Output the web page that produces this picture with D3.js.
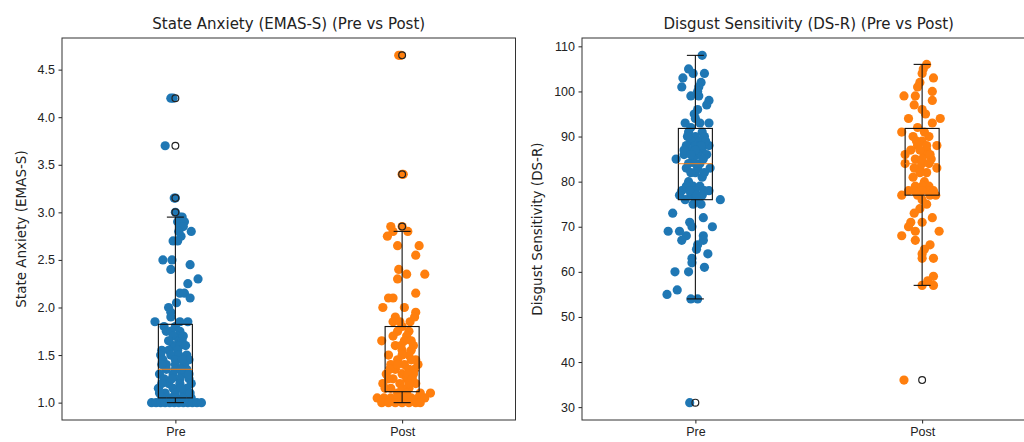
<!DOCTYPE html>
<html>
<head>
<meta charset="utf-8">
<script src="https://cdn.jsdelivr.net/npm/d3@7"></script>
<style>
  body { margin: 0; background: #fff; }
  svg { display: block; font-family: "DejaVu Sans", sans-serif; }
  .axis path, .axis line { stroke: #222; }
  .axis text { fill: #222; font-size: 12.5px; }
</style>
</head>
<body>
<div id="chart"></div>
<script>
// groups
const groups = ['Pre', 'Post'];
const colors = ['#1f77b4', '#ff7f0e'];

// EMAS-S points: [value, jitter from group position]
const emasPre = [
  [4.2,-0.02],[4.2,-0.01],[3.7,-0.045],[3.15,0.0],[3.15,-0.005],[3.0,0.0],
  [2.95,0.02],[2.95,0.03],[2.9,0.01],[2.9,0.04],[2.85,0.02],[2.85,0.035],[2.8,0.07],[2.8,0.015],
  [2.75,0.025],[2.7,-0.01],[2.7,0.01],[2.5,-0.055],[2.5,-0.015],[2.4,-0.02],[2.45,0.065],
  [2.3,0.1],[2.25,0.055],[2.15,0.02],[2.15,0.04],[2.1,0.065],[2.05,0.005],[2.0,-0.03],
  [1.95,-0.02],[1.9,-0.02],[1.85,-0.09],[1.85,0.02],[1.85,0.055],
  [1.8,-0.05],[1.8,0.0],[1.75,-0.04],[1.75,-0.02],[1.75,0.02],[1.7,0.01],[1.7,-0.01],
  [1.65,0.015],[1.65,0.03],[1.6,-0.01],[1.6,0.02],[1.55,-0.06],[1.55,-0.03],[1.5,0.05],
  [1.5,-0.065],[1.45,-0.055],[1.45,0.06],[1.4,0.0],[1.4,0.04],[1.4,-0.04],[1.35,-0.04],
  [1.35,0.05],[1.3,-0.07],[1.3,-0.01],[1.3,0.03],[1.25,0.02],[1.25,-0.05],[1.25,0.06],
  [1.2,-0.03],[1.2,0.07],[1.2,0.02],[1.15,-0.075],[1.15,-0.01],[1.15,0.05],[1.1,0.04],
  [1.1,-0.045],[1.1,0.0],[1.05,-0.06],[1.05,0.03],[1.05,-0.02],[1.05,0.07],
  [1.7,0.035],[1.65,-0.03],[1.6,0.045],[1.55,0.01],[1.5,-0.02],[1.5,0.015],[1.45,0.0],
  [1.45,0.03],[1.4,-0.06],[1.35,0.0],[1.35,0.025],[1.3,0.06],[1.25,-0.015],[1.2,-0.06],
  [1.15,0.025],[1.1,-0.07],[1.1,0.065],[1.05,0.0],
  [1.0,-0.105],[1.0,-0.085],[1.0,-0.065],[1.0,-0.045],[1.0,-0.025],[1.0,-0.005],
  [1.0,0.015],[1.0,0.035],[1.0,0.055],[1.0,0.075],[1.0,0.095],[1.0,0.115]
];
const emasPost = [
  [4.65,-0.015],[4.65,-0.005],[3.4,0.0],[3.4,0.005],[2.85,-0.05],[2.85,0.0],
  [2.8,0.025],[2.8,-0.04],[2.75,-0.065],[2.65,-0.02],[2.65,0.075],[2.55,0.06],[2.4,-0.015],
  [2.35,0.02],[2.35,0.1],[2.3,-0.02],[2.15,0.06],[2.1,-0.06],[2.1,-0.04],[2.0,-0.085],
  [2.0,0.01],[1.95,0.06],[1.9,0.055],[1.9,-0.03],[1.85,-0.04],[1.85,0.035],[1.85,-0.01],
  [1.8,0.0],[1.75,-0.02],[1.75,0.03],[1.7,0.02],[1.7,-0.04],[1.65,-0.09],[1.65,0.01],
  [1.6,0.05],[1.6,-0.03],[1.55,0.0],[1.55,0.04],[1.5,-0.06],[1.5,0.03],[1.45,-0.02],
  [1.45,0.06],[1.4,-0.05],[1.4,0.01],[1.4,0.07],[1.35,-0.03],[1.35,0.03],[1.3,-0.07],
  [1.3,0.0],[1.3,0.05],[1.25,-0.04],[1.25,0.02],[1.2,-0.085],[1.2,-0.01],[1.2,0.06],
  [1.15,0.03],[1.15,-0.05],[1.1,0.125],[1.1,-0.02],[1.1,0.08],
  [1.65,0.04],[1.6,-0.005],[1.5,0.0],[1.45,0.04],[1.4,-0.02],[1.35,0.055],[1.35,-0.055],
  [1.3,0.025],[1.25,0.045],[1.25,-0.06],[1.2,0.03],[1.15,0.0],[1.15,-0.075],[1.1,0.02],
  [1.05,-0.11],[1.05,-0.08],[1.05,-0.05],[1.05,-0.02],[1.05,0.01],[1.05,0.04],[1.05,0.07],[1.05,0.1],
  [1.0,-0.09],[1.0,-0.06],[1.0,-0.03],[1.0,0.0],[1.0,0.03],[1.0,0.06],[1.0,0.08]
];

// DS-R points: [value, jitter]
const dsPre = [
  [108,0.03],[105,-0.03],[104,-0.01],[104,0.04],[103,-0.055],[102,0.025],[101,-0.06],[101,0.015],
  [100,0.01],[99,-0.02],[99,0.015],[98,0.06],[97,0.05],[96,0.01],[95,-0.005],[94,0.0],
  [93,-0.045],[93,0.06],[93,0.02],[92,-0.02],[91,0.03],[91,-0.03],[90,0.0],[90,0.04],
  [89,-0.02],[89,0.02],[88,-0.04],[88,0.06],[88,0.0],[87,-0.03],[87,0.03],[86,0.01],
  [86,-0.05],[86,0.05],[85,-0.085],[85,-0.01],[84,0.02],[84,-0.03],[83,0.065],[83,-0.04],
  [82,0.0],[82,-0.02],[81,0.03],[80,-0.03],[79,-0.01],[79,0.02],[78,-0.06],[78,0.04],
  [78,0.0],[77,-0.07],[77,-0.02],[77,0.03],[76,0.11],[76,-0.045],[76,0.0],[75,0.025],
  [90,-0.035],[89,0.045],[88,0.025],[87,0.0],[87,-0.05],[86,-0.02],[85,0.035],[84,0.0],
  [83,0.01],[82,0.04],[79,-0.04],[78,-0.025],[78,0.06],[77,0.005],
  [75,-0.01],[73,-0.1],[72,0.035],[71,-0.025],[70,-0.015],[70,0.075],[69,-0.12],[69,-0.07],
  [68,0.035],[68,-0.04],[67,-0.06],[67,0.035],[66,0.01],[65,0.005],[64,0.055],[63,-0.015],
  [62,-0.015],[61,0.04],[60,-0.09],[60,-0.03],[56,-0.08],[55,-0.125],[54,-0.02],[54,0.01],
  [31,-0.025]
];
const dsPost = [
  [106,0.02],[105,0.005],[104,0.0],[103,0.05],[102,-0.01],[101,-0.02],[100,0.045],[99,-0.08],
  [99,-0.03],[98,0.045],[97,-0.035],[96,0.0],[95,0.015],[94,0.08],[94,-0.06],[93,0.045],
  [92,-0.02],[91,-0.09],[91,0.01],[90,-0.04],[90,0.03],[89,0.0],[88,0.065],[88,-0.02],
  [87,0.02],[87,-0.05],[86,-0.075],[86,0.01],[85,0.04],[85,-0.03],[84,-0.075],[84,0.0],
  [83,0.065],[83,-0.01],[82,0.02],[81,-0.04],[80,0.01],[79,-0.03],[79,0.03],[78,-0.06],
  [89,-0.025],[88,0.02],[87,-0.01],[86,0.035],[85,0.0],[84,0.03],[83,-0.035],[82,-0.01],
  [79,0.0],[78,0.025],[78,-0.035],[77,0.035],
  [78,0.05],[78,0.0],[77,-0.09],[77,-0.02],[77,0.06],[76,0.0],[75,0.02],[74,-0.01],
  [73,-0.035],[72,0.045],[71,-0.05],[71,0.0],[70,-0.06],[69,0.075],[69,-0.03],[68,-0.09],
  [67,-0.03],[66,0.035],[65,0.01],[64,0.0],[63,0.0],[63,0.05],[59,0.05],[58,0.025],
  [57,0.0],[57,0.05],[36,-0.08]
];

// box stats per group: [whisker low, q1, median, q3, whisker high]
const emasStats = [[1.0, 1.05, 1.35, 1.823, 2.95], [1.0, 1.115, 1.35, 1.80, 2.8]];
const emasFliers = [[3.0, 3.15, 3.7, 4.2], [2.85, 3.4, 4.65]];
const dsStats = [[54, 76, 84, 91.8, 108], [57, 77, 84, 91.8, 106]];
const dsFliers = [[31], [36]];

// tick labels
const emasTicks = [1.0, 1.5, 2.0, 2.5, 3.0, 3.5, 4.0, 4.5];
const dsTicks = [30, 40, 50, 60, 70, 80, 90, 100, 110];

const W = 1024, H = 442;
const svg = d3.select('#chart').append('svg')
  .attr('width', W).attr('height', H);

function drawPanel(opts) {
  const {left, top, w, h, points, stats, fliers, ticks, fmt, title, ylabel, labelX} = opts;

  const g = svg.append('g').attr('transform', `translate(${left},${top})`);

  // y extent with matplotlib style 5% margin
  const allVals = points.flat().map(d => d[0]);
  const lo = d3.min(allVals), hi = d3.max(allVals);
  const pad = (hi - lo) * 0.05;

  const x = d3.scaleLinear().domain([0.5, 2.5]).range([0, w]);
  const y = d3.scaleLinear().domain([lo - pad, hi + pad]).range([h, 0]);

  // jittered points
  points.forEach((pts, i) => {
    g.append('g').selectAll('circle')
      .data(pts)
      .join('circle')
      .attr('cx', d => x(i + 1 + d[1]))
      .attr('cy', d => y(d[0]))
      .attr('r', 4.6)
      .attr('fill', colors[i]);
  });

  // boxplots
  const bw = 0.15;
  stats.forEach((s, i) => {
    const [wl, q1, med, q3, wh] = s;
    const cx = i + 1;
    const b = g.append('g').attr('fill', 'none');
    b.append('rect')
      .attr('x', x(cx - bw / 2)).attr('width', x(cx + bw / 2) - x(cx - bw / 2))
      .attr('y', y(q3)).attr('height', y(q1) - y(q3))
      .attr('stroke', '#111').attr('stroke-width', 1.1);
    [[wl, q1], [q3, wh]].forEach(([a, c]) => {
      b.append('line')
        .attr('x1', x(cx)).attr('x2', x(cx))
        .attr('y1', y(a)).attr('y2', y(c))
        .attr('stroke', '#111').attr('stroke-width', 1.1);
    });
    [wl, wh].forEach(v => {
      b.append('line')
        .attr('x1', x(cx - bw / 4)).attr('x2', x(cx + bw / 4))
        .attr('y1', y(v)).attr('y2', y(v))
        .attr('stroke', '#111').attr('stroke-width', 1.1);
    });
    b.append('line')
      .attr('x1', x(cx - bw / 2)).attr('x2', x(cx + bw / 2))
      .attr('y1', y(med)).attr('y2', y(med))
      .attr('stroke', '#ff7f0e').attr('stroke-opacity', 0.75).attr('stroke-width', 1.3);
    b.selectAll('circle.flier')
      .data(fliers[i])
      .join('circle')
      .attr('class', 'flier')
      .attr('cx', x(cx))
      .attr('cy', d => y(d))
      .attr('r', 3.4)
      .attr('stroke', '#222')
      .attr('stroke-width', 1.2);
  });

  // axes
  g.append('g').attr('class', 'axis')
    .call(d3.axisLeft(y).tickValues(ticks).tickFormat(fmt).tickSize(3.5).tickPadding(3.5))
    .call(a => a.select('.domain').remove());
  g.append('g').attr('class', 'axis')
    .attr('transform', `translate(0,${h})`)
    .call(d3.axisBottom(x).tickValues([1, 2]).tickFormat(d => groups[d - 1]).tickSize(3.5).tickPadding(3.5))
    .call(a => a.select('.domain').remove());

  // frame
  g.append('rect')
    .attr('width', w).attr('height', h)
    .attr('fill', 'none').attr('stroke', '#333').attr('stroke-width', 1);

  g.append('text')
    .attr('x', w / 2).attr('y', -9)
    .attr('text-anchor', 'middle')
    .attr('font-size', 15).attr('fill', '#222')
    .text(title);

  svg.append('text')
    .attr('transform', `translate(${labelX},${top + h / 2}) rotate(-90)`)
    .attr('text-anchor', 'middle')
    .attr('dy', '0.35em')
    .attr('font-size', 13.5).attr('fill', '#222')
    .text(ylabel);
}

drawPanel({
  left: 62, top: 38, w: 453.5, h: 382,
  points: [emasPre, emasPost], stats: emasStats, fliers: emasFliers,
  ticks: emasTicks, fmt: d3.format('.1f'),
  title: 'State Anxiety (EMAS-S) (Pre vs Post)',
  ylabel: 'State Anxiety (EMAS-S)', labelX: 21
});

drawPanel({
  left: 582, top: 38, w: 453.5, h: 382,
  points: [dsPre, dsPost], stats: dsStats, fliers: dsFliers,
  ticks: dsTicks, fmt: d3.format('d'),
  title: 'Disgust Sensitivity (DS-R) (Pre vs Post)',
  ylabel: 'Disgust Sensitivity (DS-R)', labelX: 537
});
</script>
</body>
</html>
